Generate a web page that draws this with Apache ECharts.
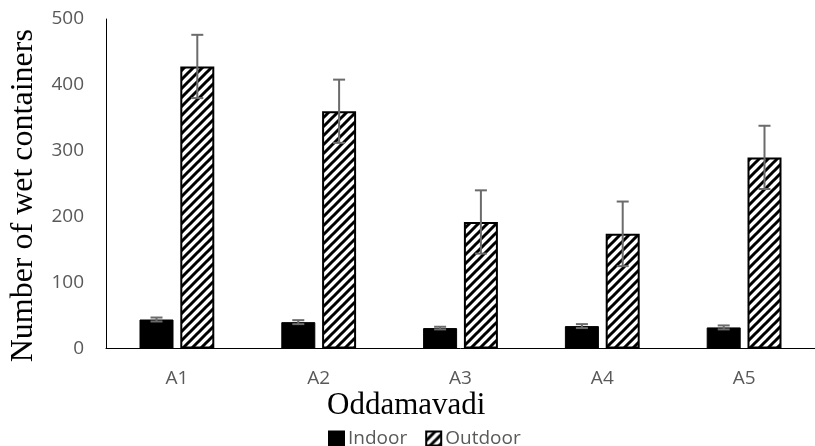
<!DOCTYPE html>
<html>
<head>
<meta charset="utf-8">
<script src="https://cdn.jsdelivr.net/npm/echarts@6/dist/echarts.min.js"></script>
<style>
html,body{margin:0;padding:0;background:#fff;}
#chart{width:815px;height:446px;}
</style>
</head>
<body>
<div id="chart"></div>
<script>
var categories = ['A1', 'A2', 'A3', 'A4', 'A5'];
var indoorValues = [44, 40, 31, 34, 32];
var indoorErrors = [3, 3, 2, 3, 3];
var outdoorValues = [428, 360, 192, 174, 290];
var outdoorErrors = [48, 48, 48, 49, 48];
var yTicks = [0, 100, 200, 300, 400, 500];

var BAR_W = 34;
var BAR_GAP = 0.2;
var OFFSET = (BAR_W + BAR_W * BAR_GAP) / 2;

function makeHatch() {
  var s = 9;
  var c = document.createElement('canvas');
  c.width = s; c.height = s;
  var ctx = c.getContext('2d');
  ctx.fillStyle = '#fff';
  ctx.fillRect(0, 0, s, s);
  ctx.strokeStyle = '#000';
  ctx.lineWidth = 3;
  ctx.beginPath();
  ctx.moveTo(-2, s + 2); ctx.lineTo(s + 2, -2);
  ctx.moveTo(-2, 2); ctx.lineTo(2, -2);
  ctx.moveTo(s - 2, s + 2); ctx.lineTo(s + 2, s - 2);
  ctx.stroke();
  return c;
}
var hatch = { image: makeHatch(), repeat: 'repeat' };

function errRender(offset) {
  return function (params, api) {
    var i = api.value(0), v = api.value(1), e = api.value(2);
    var hi = api.coord([i, v + e]);
    var lo = api.coord([i, v - e]);
    var x = hi[0] + offset;
    var st = { stroke: '#6b6b6b', lineWidth: 2 };
    var cap = 6;
    return {
      type: 'group',
      children: [
        { type: 'line', shape: { x1: x, y1: hi[1], x2: x, y2: lo[1] }, style: st },
        { type: 'line', shape: { x1: x - cap, y1: hi[1], x2: x + cap, y2: hi[1] }, style: st },
        { type: 'line', shape: { x1: x - cap, y1: lo[1], x2: x + cap, y2: lo[1] }, style: st }
      ]
    };
  };
}

var labelFont = 'Open Sans';
var chart = echarts.init(document.getElementById('chart'), null, { renderer: 'canvas' });
chart.setOption({
  animation: false,
  backgroundColor: '#fff',
  grid: { left: 102, top: 19, width: 717, bottom: 97.5, containLabel: false },
  legend: {
    data: ['Indoor', 'Outdoor'],
    left: 323, top: 424,
    icon: 'rect',
    itemWidth: 15, itemHeight: 14, itemGap: 18,
    textStyle: { fontFamily: labelFont, fontSize: 19, color: '#595959', padding: [0, 0, 0, -1] }
  },
  graphic: [{
    type: 'text', left: 327, top: 390,
    style: { text: 'Oddamavadi', font: '31px "Liberation Serif"', fill: '#000' }
  }],
  xAxis: {
    type: 'category',
    data: categories,
    axisLine: { lineStyle: { color: '#000', width: 1 } },
    axisTick: { show: false },
    axisLabel: { fontFamily: labelFont, fontSize: 19, color: '#595959', margin: 21 }
  },
  yAxis: {
    type: 'value',
    min: yTicks[0], max: yTicks[yTicks.length - 1], interval: 100,
    name: 'Number of wet containers',
    nameLocation: 'middle',
    nameGap: 66,
    nameTextStyle: { fontFamily: 'Liberation Serif', fontSize: 32, color: '#000', padding: [0, 24, 0, 0] },
    axisLine: { show: true, lineStyle: { color: '#000', width: 1 } },
    axisTick: { show: false },
    splitLine: { show: false },
    axisLabel: { fontFamily: labelFont, fontSize: 19, color: '#595959', margin: 22 }
  },
  series: [
    {
      name: 'Indoor', type: 'bar', data: indoorValues,
      barWidth: BAR_W, barGap: (BAR_GAP * 100) + '%',
      itemStyle: { color: '#000', borderColor: '#000', borderWidth: 1 }
    },
    {
      name: 'Outdoor', type: 'bar', data: outdoorValues,
      barWidth: BAR_W, barGap: (BAR_GAP * 100) + '%',
      itemStyle: { color: hatch, borderColor: '#000', borderWidth: 2 }
    },
    {
      name: 'IndoorErr', type: 'custom', z: 10,
      renderItem: errRender(-OFFSET),
      encode: { x: 0, y: 1 },
      data: categories.map(function (c, i) { return [i, indoorValues[i], indoorErrors[i]]; })
    },
    {
      name: 'OutdoorErr', type: 'custom', z: 10,
      renderItem: errRender(OFFSET),
      encode: { x: 0, y: 1 },
      data: categories.map(function (c, i) { return [i, outdoorValues[i], outdoorErrors[i]]; })
    }
  ]
});
</script>
</body>
</html>
